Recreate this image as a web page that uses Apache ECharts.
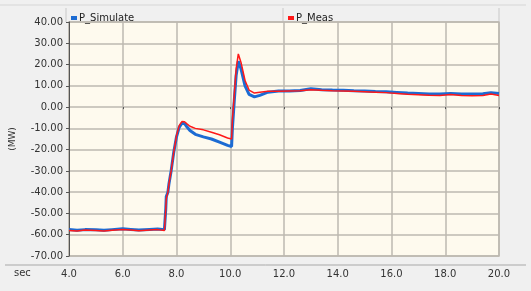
<!DOCTYPE html>
<html><head><meta charset="utf-8">
<script src="https://cdn.jsdelivr.net/npm/echarts@6/dist/echarts.min.js"></script>
<style>html,body{margin:0;padding:0;background:#f0f0f0;}#c{width:531px;height:291px;}</style>
</head><body><div id="c"></div>
<script>
const times = [4.0,4.3,4.6,5.0,5.3,5.6,6.0,6.3,6.6,7.0,7.3,7.55,7.6,7.62,7.68,7.72,7.8,7.9,8.0,8.1,8.2,8.3,8.4,8.5,8.7,9.0,9.3,9.6,9.9,10.05,10.08,10.15,10.22,10.3,10.4,10.55,10.7,10.9,11.1,11.4,11.8,12.2,12.6,13.0,13.4,13.8,14.2,14.6,15.0,15.4,15.8,16.2,16.6,17.0,17.4,17.8,18.2,18.6,19.0,19.4,19.7,20.0];
const pSimulate = [-57.5,-57.9,-57.6,-57.7,-57.9,-57.6,-57.2,-57.5,-57.8,-57.5,-57.3,-57.6,-48,-42,-40,-36,-30,-21,-14,-9.5,-7.6,-7.8,-9.5,-11,-12.8,-14,-15,-16.5,-18,-18.5,-10,3,15,21.5,18,10,6,4.8,5.5,7,7.6,7.6,7.8,8.6,8.2,8.0,7.9,7.7,7.6,7.3,7.2,6.9,6.6,6.4,6.2,6.1,6.4,6.2,6.1,6.3,6.8,6.4];
const pMeas = [-58,-58.2,-57.8,-58.0,-58.2,-57.9,-57.5,-57.8,-58.1,-57.8,-57.6,-58.0,-48,-43,-40,-36,-30,-21,-13.5,-8.7,-6.8,-6.9,-8,-9,-10,-10.7,-11.8,-13,-14.5,-15,-6,6,18,25,21,12.5,8,6.6,7,7.4,7.5,7.6,7.7,8.2,7.9,7.7,7.6,7.4,7.2,7.0,6.8,6.4,6.0,5.8,5.6,5.5,5.9,5.5,5.3,5.5,6.1,5.5];
const seriesNames = ['P_Simulate','P_Meas'];
const xAxisName = 'sec';
const yAxisName = '(MW)';
const yTicks = {min:-70,max:40,step:10};
const xTicks = {min:4,max:20,step:2};

const font = 'DejaVu Sans';
const chart = echarts.init(document.getElementById('c'), null, {renderer:'canvas'});
const pairs = (vals) => times.map((t,i)=>[t, vals[i]]);
chart.setOption({
  backgroundColor:'#f0f0f0',
  animation:false,
  textStyle:{fontFamily:font},
  graphic:[
    {type:'line',shape:{x1:0,y1:5,x2:526,y2:5},style:{stroke:'#d6d6d6',lineWidth:1}},
    {type:'line',shape:{x1:283,y1:8,x2:283,y2:22},style:{stroke:'#c8c8c8',lineWidth:1}},
    {type:'line',shape:{x1:499,y1:8,x2:499,y2:22},style:{stroke:'#c8c8c8',lineWidth:1}},
    {type:'line',shape:{x1:66,y1:8,x2:66,y2:22},style:{stroke:'#c8c8c8',lineWidth:1}},
    {type:'line',shape:{x1:5,y1:265,x2:526,y2:265},style:{stroke:'#a8a8a8',lineWidth:1}},
    {type:'text',left:14,top:268,style:{text:xAxisName,font:'10px "DejaVu Sans"',fill:'#333'}}
  ],
  legend:[
    {data:[seriesNames[0]],left:66,top:8,itemWidth:6,itemHeight:4,icon:'rect',
     textStyle:{fontFamily:font,fontSize:10,color:'#222',padding:[0,0,0,-3]}},
    {data:[seriesNames[1]],left:283,top:8,itemWidth:6,itemHeight:4,icon:'rect',
     textStyle:{fontFamily:font,fontSize:10,color:'#222',padding:[0,0,0,-3]}}
  ],
  grid:{left:66,right:32,top:22,bottom:35,show:true,backgroundColor:'#fefaee',borderColor:'#bdb9b0',borderWidth:1.5},
  xAxis:{type:'value',min:xTicks.min,max:xTicks.max,interval:xTicks.step,offset:8,
    axisLine:{show:false},
    axisTick:{show:true,inside:false,length:2,lineStyle:{color:'#555'}},
    axisLabel:{fontFamily:font,fontSize:10,color:'#333',margin:5,formatter:v=>v.toFixed(1)},
    splitLine:{show:true,lineStyle:{color:'#bdb9b0',width:1.5}}},
  yAxis:{type:'value',min:yTicks.min,max:yTicks.max,interval:yTicks.step,
    name:yAxisName,nameLocation:'middle',nameGap:52,nameRotate:90,
    nameTextStyle:{fontFamily:font,fontSize:9,color:'#333'},
    axisLine:{show:true,lineStyle:{color:'#555',width:1}},
    axisTick:{show:true,length:3,lineStyle:{color:'#555'}},
    axisLabel:{fontFamily:font,fontSize:10,color:'#333',margin:6,formatter:v=>v.toFixed(2)},
    splitLine:{show:true,lineStyle:{color:'#bdb9b0',width:1.5}}},
  series:[
    {name:seriesNames[0],type:'line',data:pairs(pSimulate),showSymbol:false,smooth:false,
     itemStyle:{color:'#1c6bd3'},lineStyle:{color:'#1c6bd3',width:3}},
    {name:seriesNames[1],type:'line',data:pairs(pMeas),showSymbol:false,smooth:false,
     itemStyle:{color:'#ff1818'},lineStyle:{color:'#ff1818',width:1.5}}
  ]
});
</script></body></html>
